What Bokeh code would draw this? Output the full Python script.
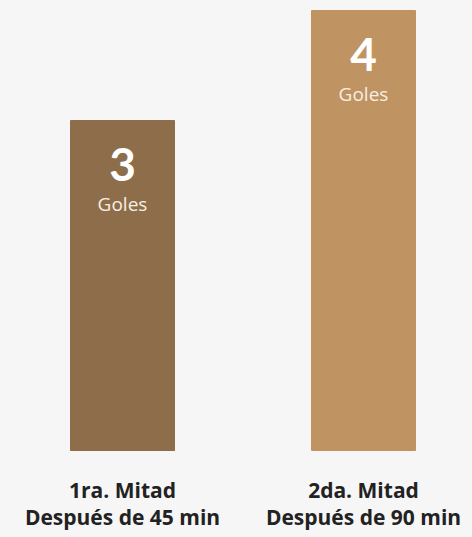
from bokeh.plotting import figure
from bokeh.models import Range1d, ColumnDataSource
from bokeh.core.properties import value
from bokeh.embed import file_html
from bokeh.resources import INLINE

categories = ["1ra. Mitad\nDespués de 45 min", "2da. Mitad\nDespués de 90 min"]
goals = [3, 4]
unit_labels = ["Goles", "Goles"]
bar_colors = ["#8e6e4a", "#c09462"]

xs = list(range(len(categories)))
src = ColumnDataSource(dict(
    x=xs, top=goals, color=bar_colors,
    num=[str(g) for g in goals], unit=unit_labels, cat=categories,
    zero=[0] * len(goals),
))

W, H = 472, 537
p = figure(width=W, height=H, output_backend="svg", toolbar_location=None,
           x_range=Range1d(-122 / 241, -122 / 241 + W / 241),
           y_range=Range1d(-87 / 110, -87 / 110 + H / 110),
           min_border=0, min_border_left=0, min_border_right=0,
           min_border_top=0, min_border_bottom=0)
p.axis.visible = False
p.grid.visible = False
p.outline_line_color = None
p.background_fill_color = "#f6f6f6"
p.border_fill_color = "#f6f6f6"

p.vbar(x="x", top="top", bottom=0, width=104 / 241, color="color", source=src)

p.text(x="x", y="top", text="num", source=src, text_align="center",
       text_baseline="alphabetic", y_offset=44, text_color="white",
       text_font=value("Lato"), text_font_style="bold", text_font_size="46px")
p.text(x="x", y="top", text="unit", source=src, text_align="center",
       text_baseline="alphabetic", y_offset=83, text_color="#f7efe4",
       text_font=value("Open Sans"), text_font_size="19px")
p.text(x="x", y="zero", text="cat", source=src, text_align="center",
       text_baseline="top", y_offset=25, text_color="#222222",
       text_font=value("Open Sans"), text_font_style="bold", text_font_size="21px",
       text_line_height=0.98)

html = file_html(p, INLINE)
html = html.replace("<head>", "<head><style>html,body{margin:0;padding:0;background:#f6f6f6;overflow:hidden}</style>", 1)
open("out.html", "w").write(html)
